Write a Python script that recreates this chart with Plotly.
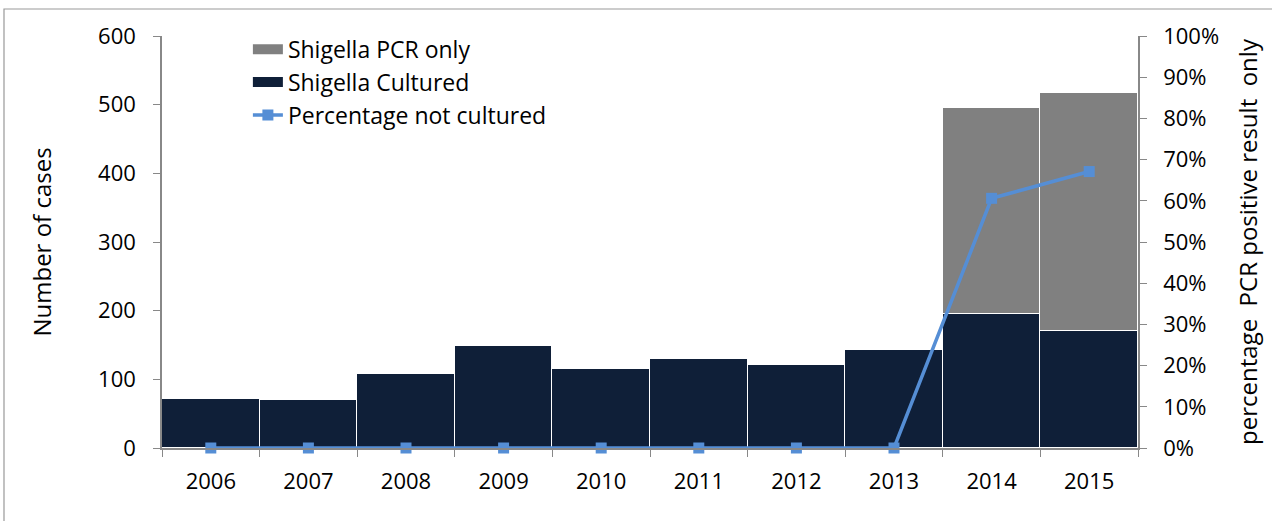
import plotly.graph_objects as go

years = ["2006", "2007", "2008", "2009", "2010", "2011", "2012", "2013", "2014", "2015"]
cultured = [71, 70, 108, 148, 115, 130, 121, 143, 195, 170]
pcr_only = [0, 0, 0, 0, 0, 0, 0, 0, 300, 347]
pct_not_cultured = [0, 0, 0, 0, 0, 0, 0, 0, 0.606, 0.671]

FONT = "Open Sans"
FS = 22
AXIS_COL = "#888888"
NAVY = "#0f1f38"
GREY = "#808080"
BLUE = "#558ed5"

fig = go.Figure()
fig.add_trace(go.Bar(
    x=years, y=cultured, name="Shigella Cultured", showlegend=False,
    marker=dict(color=NAVY, line=dict(color="white", width=1.5)),
))
fig.add_trace(go.Bar(
    x=years, y=pcr_only, name="Shigella PCR only", showlegend=False,
    marker=dict(color=GREY, line=dict(color="white", width=1.5)),
))
# legend-only entries with wide swatches
fig.add_trace(go.Scatter(
    x=[None], y=[None], name="Shigella PCR only", mode="lines",
    line=dict(color=GREY, width=12), legendrank=1,
))
fig.add_trace(go.Scatter(
    x=[None], y=[None], name="Shigella Cultured", mode="lines",
    line=dict(color=NAVY, width=12), legendrank=2,
))
fig.add_trace(go.Scatter(
    x=years, y=pct_not_cultured, name="Percentage not cultured",
    yaxis="y2", mode="lines+markers", cliponaxis=False,
    line=dict(color=BLUE, width=3.5),
    marker=dict(symbol="square", size=11, color=BLUE),
    legendrank=3,
))

fig.update_layout(
    width=1272, height=521,
    margin=dict(l=162, r=134, t=36, b=73, autoexpand=False),
    barmode="stack", bargap=0,
    paper_bgcolor="white", plot_bgcolor="white",
    font=dict(family=FONT, size=FS, color="black"),
    showlegend=True,
    legend=dict(x=0.088, y=1.02, xanchor="left", yanchor="top",
                traceorder="normal",
                bgcolor="rgba(0,0,0,0)", font=dict(size=23),
                tracegroupgap=0, itemwidth=30),
    xaxis=dict(
        type="category", range=[-0.5, len(years) - 0.5],
        tickson="boundaries", ticks="outside", ticklen=7,
        tickcolor=AXIS_COL, showline=True, linecolor=AXIS_COL, linewidth=1.5,
        showgrid=False, tickfont=dict(size=FS), automargin=False,
        ticklabelstandoff=13,
    ),
    yaxis=dict(
        range=[0, 600], dtick=100, ticks="outside", ticklen=7,
        tickcolor=AXIS_COL, showline=True, linecolor=AXIS_COL, linewidth=1.5,
        showgrid=False, zeroline=False, tickfont=dict(size=FS), automargin=False,
        ticklabelstandoff=13,
        title=dict(text="Number of cases", font=dict(size=24), standoff=40),
    ),
    yaxis2=dict(
        range=[0, 1], dtick=0.1, tickformat=".0%", overlaying="y", side="right",
        ticks="outside", ticklen=7, tickcolor=AXIS_COL, showline=True,
        linecolor=AXIS_COL, linewidth=1.5, showgrid=False, zeroline=False,
        tickfont=dict(size=FS), automargin=False, ticklabelstandoff=12,
        title=dict(text="percentage\u00a0 PCR positive result\u00a0 only",
                   font=dict(size=24), standoff=22),
    ),
    shapes=[dict(type="rect", xref="paper", yref="paper",
                 x0=(4 - 162) / 976, x1=(1280 - 162) / 976,
                 y0=(448 - 530) / 412, y1=(448 - 9) / 412,
                 line=dict(color="#999999", width=1.2), layer="below")],
)

fig.write_html("out.html", config={"displayModeBar": False},
               post_script="document.body.style.margin='0';")
